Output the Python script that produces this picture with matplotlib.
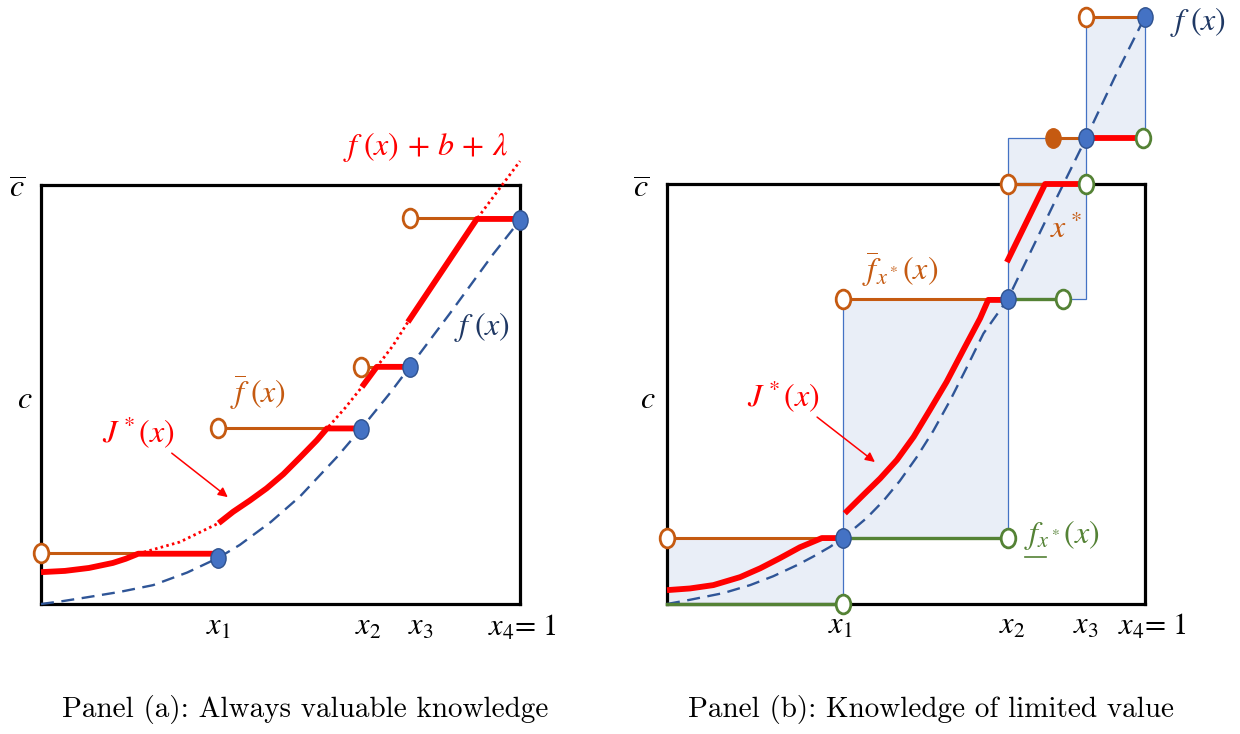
import numpy as np
import matplotlib
matplotlib.use('Agg')
import matplotlib.pyplot as plt
from matplotlib.path import Path
from matplotlib.transforms import Affine2D
from matplotlib.patches import Rectangle

plt.rcParams['mathtext.fontset'] = 'stix'
plt.rcParams['font.family'] = ['STIXGeneral', 'DejaVu Serif']

RED = '#FF0000'
ORANGE = '#C55A11'
BLUE = '#4472C4'
BLUE_EDGE = '#2F528F'
DASH = '#2F5597'
GREEN = '#548235'
NAVY = '#1F3864'
FS = 23

# both boxes run 0..1 on x and 0..1 on y (top of the box is c bar)
# ---------------- panel (a) ----------------
a_knots = [0.0, 0.370, 0.668, 0.770, 1.0]          # x0 .. x4
a_fknots = [0.0, 0.110, 0.418, 0.566, 0.916]       # f at the knots
a_upper = [0.122, 0.420, 0.566, 0.921]             # f bar level on each cell

a_f_x = [0, 0.046, 0.096, 0.165, 0.234, 0.305, 0.370, 0.415, 0.480, 0.541,
         0.618, 0.668, 0.729, 0.770, 0.854, 0.944, 1.0]
a_f_y = [0, 0.007, 0.016, 0.029, 0.045, 0.075, 0.110, 0.141, 0.196, 0.257,
         0.351, 0.418, 0.504, 0.566, 0.694, 0.835, 0.916]

# f(x) + b + lambda (dotted)
a_g_x = [0.203, 0.290, 0.371, 0.401, 0.436, 0.471, 0.506, 0.541, 0.576, 0.597,
         0.635, 0.670, 0.701, 0.735, 0.766, 0.910, 1.0]
a_g_y = [0.120, 0.148, 0.193, 0.220, 0.247, 0.276, 0.310, 0.350, 0.391, 0.419,
         0.468, 0.518, 0.566, 0.617, 0.673, 0.919, 1.057]

# J*(x) pieces
a_J = [([0, 0.05, 0.10, 0.15, 0.177, 0.203, 0.370],
        [0.076, 0.079, 0.086, 0.098, 0.108, 0.120, 0.120]),
       ([0.371, 0.401, 0.436, 0.471, 0.506, 0.541, 0.576, 0.597, 0.668],
        [0.193, 0.220, 0.247, 0.276, 0.310, 0.350, 0.391, 0.419, 0.419]),
       ([0.670, 0.701, 0.770], [0.518, 0.566, 0.566]),
       ([0.766, 0.910, 1.0], [0.673, 0.919, 0.919])]

# ---------------- panel (b) ----------------
b_knots = [0.0, 0.368, 0.713, 0.877, 1.0]
b_fknots = [0.0, 0.157, 0.726, 1.110, 1.398]
b_xstar = 0.808

b_f_x = [0, 0.048, 0.118, 0.174, 0.222, 0.271, 0.306, 0.341, 0.368, 0.418,
         0.453, 0.487, 0.522, 0.557, 0.592, 0.627, 0.662, 0.713, 0.816, 0.877,
         0.937, 1.0]
b_f_y = [0, 0.010, 0.026, 0.045, 0.066, 0.092, 0.113, 0.136, 0.157, 0.205,
         0.246, 0.293, 0.349, 0.412, 0.484, 0.563, 0.644, 0.726, 0.969, 1.110,
         1.255, 1.398]

# upper bound segments (start x, end x, level, open ring at start)
b_upper = [(0.0, 0.368, 0.157, True), (0.368, 0.713, 0.726, True),
           (0.713, 0.791, 1.0, True), (0.808, 0.877, 1.110, False),
           (0.877, 1.0, 1.398, True)]
# lower bound segments (start x, end x, level)
b_lower = [(0.0, 0.368, 0.0), (0.368, 0.713, 0.157), (0.713, 0.828, 0.726)]

b_J = [([0, 0.048, 0.097, 0.153, 0.195, 0.236, 0.278, 0.324, 0.368],
        [0.033, 0.037, 0.045, 0.064, 0.085, 0.109, 0.135, 0.157, 0.157]),
       ([0.372, 0.411, 0.446, 0.481, 0.516, 0.550, 0.585, 0.620, 0.655, 0.672, 0.713],
        [0.216, 0.260, 0.299, 0.343, 0.398, 0.462, 0.529, 0.605, 0.680, 0.724, 0.724]),
       ([0.711, 0.791, 0.877], [0.814, 1.0, 1.0]),
       ([0.877, 0.990], [1.110, 1.110])]

# open green circles at the right end of red pieces above the box
b_green_extra_x = [0.877, 0.996]
b_green_extra_y = [1.0, 1.110]

# slightly tall ellipse used for every dot
oval = Path.unit_circle().transformed(Affine2D().scale(0.78, 1.0))

fig = plt.figure(figsize=(12.4, 7.34), dpi=100)
axa = fig.add_axes([41/1240, 130/734, 479/1240, 419/734])
axb = fig.add_axes([667/1240, 130/734, 478/1240, 420/734])

for ax in (axa, axb):
    ax.set_xlim(0, 1)
    ax.set_ylim(0, 1)
    ax.set_xticks([])
    ax.set_yticks([])
    for s in ax.spines.values():
        s.set_linewidth(2.3)
        s.set_color('black')
        s.set_zorder(2)
    ax.patch.set_alpha(0)


def dots(ax, xs, ys, face, edge, size=14):
    ax.plot(xs, ys, ls='none', marker=oval, ms=size, mfc=face, mec=edge,
            mew=1.0, zorder=7, clip_on=False)


def rings(ax, xs, ys, col):
    ax.plot(xs, ys, ls='none', marker=oval, ms=13.5, mfc='white', mec=col,
            mew=2.0, zorder=7, clip_on=False)


dash_kw = dict(color=DASH, lw=1.7, dashes=(5.5, 3.2), zorder=3, clip_on=False)
red_kw = dict(color=RED, lw=4.2, solid_capstyle='butt', solid_joinstyle='round',
              zorder=5, clip_on=False)
lab_kw = dict(fontsize=FS, ha='center', va='center')

# ---- panel (a) drawing
axa.plot(a_f_x, a_f_y, **dash_kw)
axa.plot(a_g_x, a_g_y, color=RED, lw=2.0, dashes=(0.9, 1.2), zorder=4, clip_on=False)
for i in range(4):
    axa.plot([a_knots[i], a_knots[i+1]], [a_upper[i], a_upper[i]], color=ORANGE,
             lw=2.2, zorder=4, clip_on=False)
for xs, ys in a_J:
    axa.plot(xs, ys, **red_kw)
rings(axa, a_knots[:4], a_upper, ORANGE)
dots(axa, a_knots[1:], a_fknots[1:], BLUE, BLUE_EDGE)

axa.text(-0.050, 0.988, r'$\overline{c}$', **lab_kw)
axa.text(-0.033, 0.487, r'$c$', **lab_kw)
axa.text(0.802, 1.090, r'$f\;(x)\,+\,b\,+\,\lambda$', color=RED, **lab_kw)
axa.text(0.921, 0.661, r'$f\;(x)$', color=NAVY, **lab_kw)
axa.text(0.453, 0.504, r'$\overline{f}\;(x)$', color=ORANGE, **lab_kw)
axa.text(0.203, 0.408, r'$J^*(x)$', color=RED, **lab_kw)
axa.annotate('', xy=(0.390, 0.255), xytext=(0.273, 0.360),
             arrowprops=dict(arrowstyle='-|>', color=RED, lw=1.1, mutation_scale=14,
                             shrinkA=0, shrinkB=0))
for lab, xx in zip([r'$x_1$', r'$x_2$', r'$x_3$', r'$x_4$= 1'], [0.370, 0.683, 0.793, 1.006]):
    axa.text(xx, -0.057, lab, fontsize=22, ha='center', va='center')

# ---- panel (b) drawing
for i in range(4):
    axb.add_patch(Rectangle((b_knots[i], b_fknots[i]), b_knots[i+1] - b_knots[i],
                            b_fknots[i+1] - b_fknots[i], facecolor='#E9EEF7',
                            edgecolor=BLUE, lw=0.9, zorder=1, clip_on=False))
axb.plot(b_f_x, b_f_y, **dash_kw)
for x0, x1, lev, ring in b_upper:
    axb.plot([x0, x1], [lev, lev], color=ORANGE, lw=2.2, zorder=4, clip_on=False)
for x0, x1, lev in b_lower:
    axb.plot([x0, x1], [lev, lev], color=GREEN, lw=2.4, zorder=4, clip_on=False)
for xs, ys in b_J:
    axb.plot(xs, ys, **red_kw)
rings(axb, [s[0] for s in b_upper if s[3]], [s[2] for s in b_upper if s[3]], ORANGE)
rings(axb, [s[1] for s in b_lower] + b_green_extra_x,
      [s[2] for s in b_lower] + b_green_extra_y, GREEN)
dots(axb, [b_xstar], [b_fknots[3]], ORANGE, ORANGE)
dots(axb, b_knots[1:], b_fknots[1:], BLUE, BLUE_EDGE)

axb.text(-0.054, 0.986, r'$\overline{c}$', **lab_kw)
axb.text(-0.040, 0.486, r'$c$', **lab_kw)
axb.text(1.111, 1.386, r'$f\;(x)$', color=NAVY, **lab_kw)
axb.text(0.487, 0.795, r'$\overline{f}_{x^*}(x)$', color=ORANGE, **lab_kw)
axb.text(0.835, 0.890, r'$x^*$', color=ORANGE, **lab_kw)
axb.text(0.243, 0.493, r'$J^*(x)$', color=RED, **lab_kw)
axb.text(0.747, 0.164, r'$f_{x^*}(x)$', color=GREEN, fontsize=FS, ha='left', va='center')
axb.plot([0.749, 0.793], [0.113, 0.113], color=GREEN, lw=1.2, clip_on=False)
axb.annotate('', xy=(0.435, 0.338), xytext=(0.314, 0.445),
             arrowprops=dict(arrowstyle='-|>', color=RED, lw=1.1, mutation_scale=14,
                             shrinkA=0, shrinkB=0))
for lab, xx in zip([r'$x_1$', r'$x_2$', r'$x_3$', r'$x_4$= 1'], [0.362, 0.723, 0.877, 1.015]):
    axb.text(xx, -0.055, lab, fontsize=22, ha='center', va='center')

# captions
fig.text(305/1240, 1 - 710/734, 'Panel (a): Always valuable knowledge', fontfamily='cmr10',
         fontsize=21, ha='center', va='center')
fig.text(931/1240, 1 - 710/734, 'Panel (b): Knowledge of limited value', fontfamily='cmr10',
         fontsize=21, ha='center', va='center')

fig.savefig('out.png', dpi=100)
